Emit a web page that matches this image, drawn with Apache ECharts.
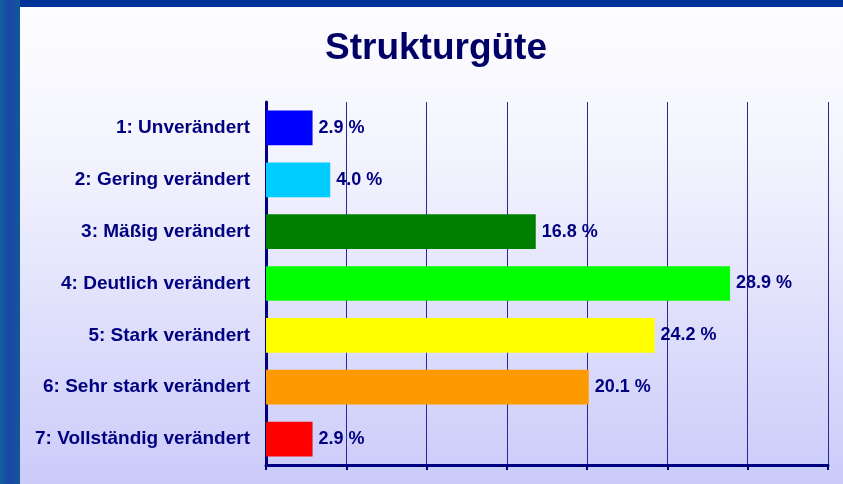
<!DOCTYPE html>
<html lang="de">
<head>
    <meta charset="UTF-8">
    <title>Strukturgüte</title>
    <script src="https://cdn.jsdelivr.net/npm/echarts@6/dist/echarts.min.js"></script>
    <style>
        html, body { margin: 0; padding: 0; background: #0a449a; }
        #chart { width: 843px; height: 484px; }
    </style>
</head>
<body>
    <div id="chart"></div>
    <script>
        // Daten
        var categories = ['1: Unverändert', '2: Gering verändert', '3: Mäßig verändert',
            '4: Deutlich verändert', '5: Stark verändert', '6: Sehr stark verändert',
            '7: Vollständig verändert'];
        var values = [2.9, 4.0, 16.8, 28.9, 24.2, 20.1, 2.9];
        var barColors = ['#0000ff', '#00ccff', '#008000', '#00ff00', '#ffff00', '#ff9900', '#ff0000'];
        var axisMax = 35;
        var axisStep = 5;

        var navy = '#000080';
        var chart = echarts.init(document.getElementById('chart'));

        var option = {
            backgroundColor: '#0a449a',
            animation: false,
            graphic: [
                // linker Streifen (Textur angedeutet)
                {
                    type: 'rect', left: 0, top: 0, z: -10,
                    shape: { width: 20, height: 484 },
                    style: {
                        fill: new echarts.graphic.LinearGradient(0, 0, 1, 0, [
                            { offset: 0, color: '#11609e' },
                            { offset: 0.5, color: '#1b44a4' },
                            { offset: 1, color: '#0f5a98' }
                        ])
                    }
                },
                {
                    type: 'rect', left: 20, top: 0, z: -10,
                    shape: { width: 823, height: 7 },
                    style: { fill: '#003399' }
                },
                // heller Hintergrund
                {
                    type: 'rect', left: 20, top: 7, z: -9,
                    shape: { width: 823, height: 477 },
                    style: {
                        fill: new echarts.graphic.LinearGradient(0, 0, 0, 1, [
                            { offset: 0, color: '#fdfdff' },
                            { offset: 0.3, color: '#f4f4fe' },
                            { offset: 1, color: '#cbcbfa' }
                        ])
                    }
                }
            ],
            title: {
                text: 'Strukturgüte',
                left: 320,
                top: 25,
                textStyle: {
                    fontFamily: 'Liberation Sans, Arial, sans-serif',
                    fontSize: 37,
                    fontWeight: 'bold',
                    color: '#000066'
                }
            },
            grid: { left: 266, right: 15, top: 102, bottom: 19 },
            xAxis: {
                type: 'value',
                min: 0,
                max: axisMax,
                interval: axisStep,
                axisLine: { show: true, lineStyle: { color: navy, width: 3 } },
                axisTick: { show: true, length: 5, lineStyle: { color: navy, width: 2 } },
                axisLabel: { show: false },
                splitLine: { show: true, lineStyle: { color: '#28289a', width: 1 } }
            },
            yAxis: {
                type: 'category',
                data: categories,
                inverse: true,
                axisLine: { show: true, lineStyle: { color: navy, width: 3 } },
                axisTick: { show: false },
                axisLabel: {
                    margin: 16,
                    color: navy,
                    fontFamily: 'Liberation Sans, Arial, sans-serif',
                    fontSize: 19,
                    fontWeight: 'bold'
                }
            },
            series: [{
                type: 'bar',
                data: values.map(function (v, i) {
                    return { value: v, itemStyle: { color: barColors[i] } };
                }),
                barCategoryGap: '33%',
                label: {
                    show: true,
                    position: 'right',
                    distance: 6,
                    color: navy,
                    fontFamily: 'Liberation Sans, Arial, sans-serif',
                    fontSize: 18,
                    fontWeight: 'bold',
                    formatter: function (p) { return p.value.toFixed(1) + ' %'; }
                }
            }]
        };
        chart.setOption(option);
    </script>
</body>
</html>
